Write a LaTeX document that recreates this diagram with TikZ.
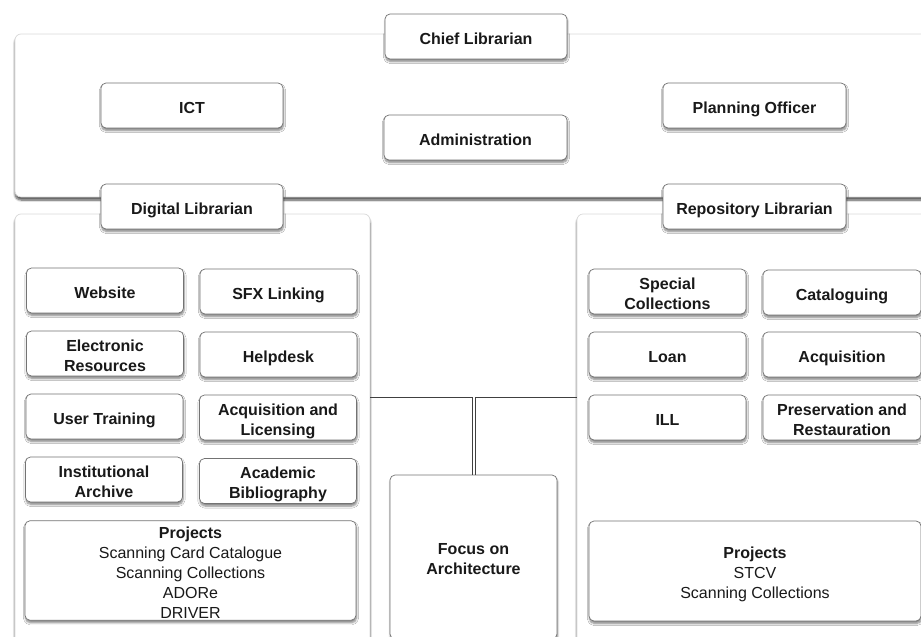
\documentclass[tikz,border=0pt]{standalone}
\usepackage{fontspec}
\setmainfont{Liberation Sans}
\usepackage{tikz}
\usetikzlibrary{positioning,shadows,shadows.blur,calc}
\tikzset{>=latex}
\tikzset{
  unit/.style={draw=black!55, fill=white, rounded corners=5pt, line width=0.7pt,
    blur shadow={shadow xshift=0.5pt, shadow yshift=-2.5pt, shadow opacity=50, shadow blur steps=6},
    minimum width=157pt, minimum height=45pt, inner sep=2pt, align=center,
    text=black!90, font=\fontsize{16}{20}\selectfont\bfseries,
    text height=15.5pt, text depth=0pt},
  twoline/.style={text height=35.5pt},
  plainunit/.style={unit, font=\fontsize{16}{20}\selectfont},
  panel/.style={draw=black!15, fill=white, rounded corners=6pt, line width=0.7pt,
    blur shadow={shadow xshift=0pt, shadow yshift=-3pt, shadow opacity=70, shadow blur steps=8},
    inner sep=0pt},
  link/.style={draw=black!75, line width=0.8pt}
}

\begin{document}
\begin{tikzpicture}[x=1pt,y=-1pt]
  \useasboundingbox (0,0) rectangle (921,637);
  \clip (0,0) rectangle (921,637);

  % panels
  \node [panel, minimum width=925pt, minimum height=163pt] (toppanel) at (477.5,115.5) {};
  \node [panel, minimum width=355pt, minimum height=446pt] (leftpanel) at (192.5,437) {};
  \node [panel, minimum width=363pt, minimum height=446pt] (rightpanel) at (758.5,437) {};

  % top level
  \node [unit, minimum width=182pt] (chief) at (476,36.5) {Chief Librarian};
  \node [unit, minimum width=182pt] (ict) at (192,105.5) {ICT};
  \node [unit, minimum width=183pt] (admin) at (475.5,137.5) {Administration};
  \node [unit, minimum width=183pt] (planning) at (754.5,105.5) {Planning Officer};
  \node [unit, minimum width=182pt] (digital) at (192,206.5) {Digital Librarian};
  \node [unit, minimum width=183pt] (repository) at (754.5,206.5) {Repository Librarian};

  % digital library
  \node [unit] (website) at (105,290.5) {Website};
  \node [unit] (sfx) at (278.5,291.5) {SFX Linking};
  \node [unit, twoline] (eres) at (105,353.5) {Electronic\\Resources};
  \node [unit] (helpdesk) at (278.5,354.5) {Helpdesk};
  \node [unit] (training) at (104.5,416.5) {User Training};
  \node [unit, twoline] (acqlic) at (278,417.5) {Acquisition and\\Licensing};
  \node [unit, twoline] (archive) at (104,479.5) {Institutional\\Archive};
  \node [unit, twoline] (biblio) at (278,481) {Academic\\Bibliography};
  \node [plainunit, minimum width=331pt, minimum height=99pt, text height=95.5pt] (dproj) at (190.5,570.5)
    {\textbf{Projects}\\Scanning Card Catalogue\\Scanning Collections\\ADORe\\DRIVER};

  % repository
  \node [unit, twoline] (special) at (667.5,291.5) {Special\\Collections};
  \node [unit, minimum width=158pt] (catalog) at (842,292.5) {Cataloguing};
  \node [unit] (loan) at (667.5,354.5) {Loan};
  \node [unit, minimum width=158pt] (acquisition) at (842,354.5) {Acquisition};
  \node [unit] (ill) at (667.5,417.5) {ILL};
  \node [unit, twoline, minimum width=158pt] (preserve) at (842,417.5) {Preservation and\\Restauration};
  \node [plainunit, minimum width=332pt, minimum height=100pt, text height=55.5pt] (rproj) at (755,571)
    {\textbf{Projects}\\STCV\\Scanning Collections};

  % architecture
  \node [unit, twoline, minimum width=167pt, minimum height=164pt] (focus) at (473.5,557) {Focus on\\Architecture};

  \coordinate (joint) at (475,397.5);
  \draw [link] (leftpanel.east |- joint) -| ([xshift=-1.6pt]focus.north);
  \draw [link] (rightpanel.west |- joint) -| ([xshift=1.6pt]focus.north);
\end{tikzpicture}
\end{document}
